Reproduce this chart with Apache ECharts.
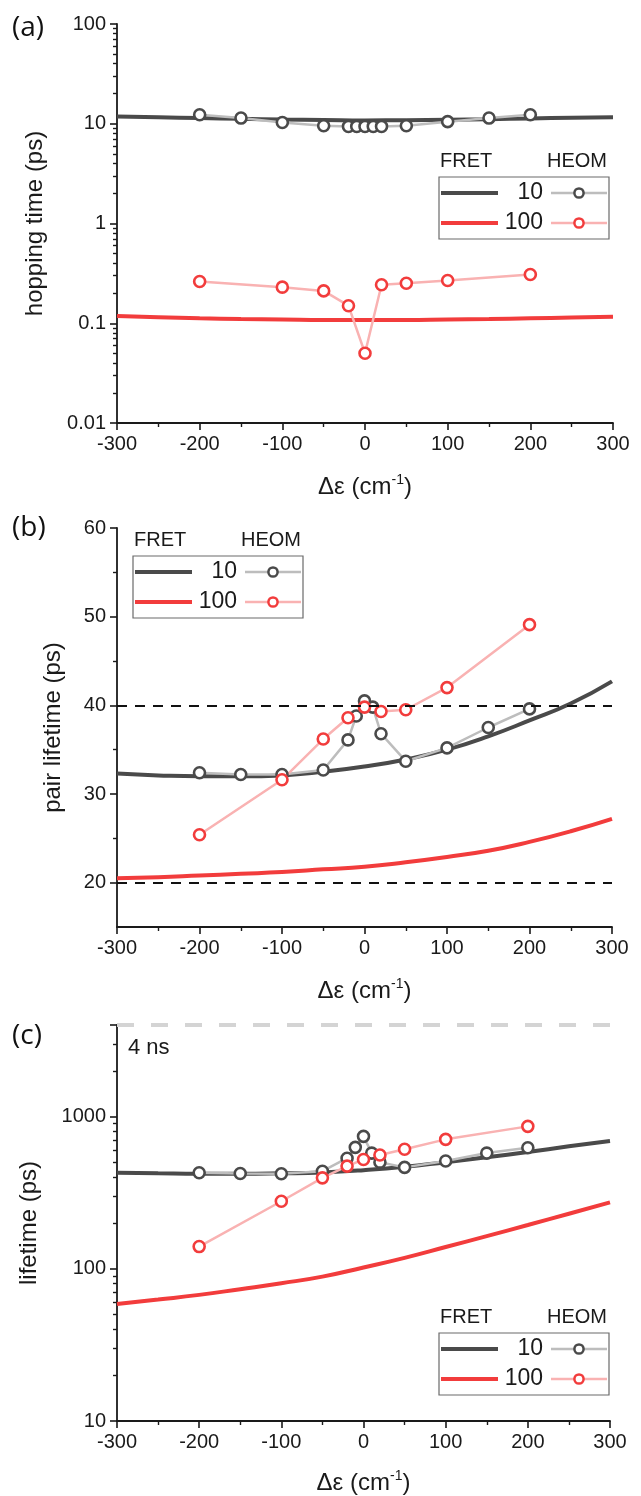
<!DOCTYPE html>
<html>
<head>
    <meta charset="utf-8">
    <title>FRET vs HEOM</title>
    <script src="https://cdn.jsdelivr.net/npm/echarts@6/dist/echarts.min.js"></script>
    <style>
        *{margin:0;padding:0;}
        html,body{width:100%;height:100%;overflow:hidden;background:#fff;}
        #main{width:641px;height:1496px;}
    </style>
</head>
<body>
<div id="main"></div>
<script>
    // energy gap (cm-1)
    let xFret = [-300, -250, -200, -150, -100, -50, 0, 50, 100, 150, 200, 250, 300];
    let xHeom10 = [-200, -150, -100, -50, -20, -10, 0, 10, 20, 50, 100, 150, 200];
    let xHeom100 = [-200, -100, -50, -20, 0, 20, 50, 100, 200];

    // (a) hopping time (ps)
    let hopFret10 = [11.8, 11.6, 11.4, 11.2, 11.0, 10.9, 10.8, 10.85, 10.95, 11.1, 11.3, 11.5, 11.6];
    let hopFret100 = [0.118, 0.115, 0.112, 0.110, 0.109, 0.108, 0.108, 0.108, 0.109, 0.110, 0.112, 0.114, 0.116];
    let hopHeom10 = [12.3, 11.4, 10.3, 9.55, 9.4, 9.4, 9.4, 9.4, 9.4, 9.55, 10.5, 11.4, 12.3];
    let hopHeom100 = [0.262, 0.23, 0.211, 0.150, 0.050, 0.243, 0.252, 0.268, 0.308];

    // (b) pair lifetime (ps)
    let pairFret10 = [32.3, 32.1, 32.0, 32.0, 32.1, 32.5, 33.1, 33.9, 35.0, 36.5, 38.3, 40.2, 42.7];
    let pairFret100 = [20.5, 20.6, 20.8, 21.0, 21.2, 21.5, 21.8, 22.3, 22.9, 23.6, 24.6, 25.8, 27.2];
    let pairHeom10 = [32.4, 32.2, 32.2, 32.7, 36.1, 38.8, 40.5, 39.8, 36.8, 33.7, 35.2, 37.5, 39.6];
    let pairHeom100 = [25.4, 31.6, 36.2, 38.6, 39.8, 39.3, 39.5, 42.0, 49.1];
    let pairRefLines = [40, 20];

    // (c) lifetime (ps)
    let lifeFret10 = [428, 424, 421, 421, 424, 430, 445, 468, 502, 540, 585, 638, 692];
    let lifeFret100 = [58.7, 62.8, 67.4, 73.5, 80.4, 88.9, 102, 118, 139, 164, 194, 230, 273];
    let lifeHeom10 = [428, 423, 421, 438, 533, 628, 742, 576, 502, 464, 511, 576, 625];
    let lifeHeom100 = [140, 278, 396, 473, 523, 559, 610, 709, 863];
    let lifeTop = 4000;

    // tick labels
    let xTicks = [-300, -200, -100, 0, 100, 200, 300];
    let hopTicks = [0.01, 0.1, 1, 10, 100];
    let pairTicks = [20, 30, 40, 50, 60];
    let pairMinor = [25, 35, 45, 55];
    let lifeTicks = [10, 100, 1000];
    let legendNames = ['10', '100'];

    const FONT = "'Liberation Sans', Arial, sans-serif";
    const TXT = '#1a1a1a';
    const AX = '#1a1a1a';
    const C10 = '#4a4a4a', C100 = '#f23c3c';
    const L10 = '#bdbdbd', L100 = '#f9b2b2';

    let zip = (xs, ys) => xs.map((x, i) => [x, ys[i]]);

    // log-spaced minor tick positions, expressed in log10 units
    function logMinor(lo, hi) {
        let out = [];
        for (let d = Math.floor(lo); d < Math.ceil(hi); d++) {
            for (let k = 2; k <= 9; k++) {
                let v = d + Math.log10(k);
                if (v > lo && v < hi - 1e-9) out.push(v);
            }
        }
        return out;
    }

    let grids = [
        {left: 117, top: 24, width: 496, height: 399},
        {left: 117, top: 528, width: 495, height: 399},
        {left: 117, top: 1025, width: 493, height: 397}
    ];

    let axisLine = {show: true, onZero: false, lineStyle: {color: AX, width: 1.8}};
    let tick = {show: true, inside: false, length: 7, lineStyle: {color: AX, width: 1.6}};
    let minorTick = {show: true, inside: false, length: 4, lineStyle: {color: AX, width: 1.4}};
    let label = {fontSize: 20, color: TXT, fontFamily: FONT, margin: 11};

    function makeX(gi, nameGap) {
        return {
            type: 'value', gridIndex: gi, min: -300, max: 300, interval: 100,
            name: '{t|Δε (cm}{s|-1}{t|)}', nameLocation: 'middle', nameGap: nameGap,
            nameTextStyle: {
                rich: {
                    t: {fontSize: 24, fontFamily: FONT, color: TXT, lineHeight: 28},
                    s: {fontSize: 14, fontFamily: FONT, color: TXT, lineHeight: 16, verticalAlign: 'top'}
                }
            },
            axisLine: axisLine,
            axisTick: tick,
            minorTick: Object.assign({splitNumber: 2}, minorTick),
            axisLabel: Object.assign({customValues: xTicks}, label),
            splitLine: {show: false}, minorSplitLine: {show: false}
        };
    }

    function isTick(list, v) {
        return list.some(t => Math.abs(Math.log10(t) - Math.log10(v)) < 1e-6);
    }

    function yName(text, gap) {
        return {
            name: text, nameLocation: 'middle', nameGap: gap,
            nameTextStyle: {fontSize: 24, fontFamily: FONT, color: TXT}
        };
    }

    function minorAxis(gi, min, max, values) {
        return {
            type: 'value', gridIndex: gi, min: min, max: max, position: 'left', offset: 0,
            axisLine: {show: false, onZero: false}, axisLabel: {show: false}, splitLine: {show: false},
            axisTick: Object.assign({customValues: values}, minorTick)
        };
    }

    let yAxes = [
        Object.assign({
            type: 'log', logBase: 10, gridIndex: 0, min: 0.01, max: 100, position: 'left',
            axisLine: axisLine, axisTick: tick, splitLine: {show: false},
            axisLabel: Object.assign({formatter: v => isTick(hopTicks, v) ? String(v) : ''}, label)
        }, yName('hopping time (ps)', 70)),
        minorAxis(0, -2, 2, logMinor(-2, 2)),
        Object.assign({
            type: 'value', gridIndex: 1, min: 15, max: 60, interval: 5, position: 'left',
            axisLine: axisLine, splitLine: {show: false},
            axisTick: Object.assign({customValues: pairTicks}, tick),
            axisLabel: Object.assign({customValues: pairTicks, formatter: v => v % 10 === 0 ? String(v) : ''}, label)
        }, yName('pair lifetime (ps)', 52)),
        minorAxis(1, 15, 60, pairMinor),
        Object.assign({
            type: 'log', logBase: 10, gridIndex: 2, min: 10, max: lifeTop, position: 'left',
            axisLine: axisLine, axisTick: tick, splitLine: {show: false},
            axisLabel: Object.assign({formatter: v => isTick(lifeTicks, v) ? String(v) : ''}, label)
        }, yName('lifetime (ps)', 76)),
        minorAxis(2, 1, Math.log10(lifeTop), logMinor(1, Math.log10(lifeTop)))
    ];

    function fret(gi, yi, ys, color) {
        return {
            type: 'line', xAxisIndex: gi, yAxisIndex: yi, data: zip(xFret, ys),
            smooth: true, symbol: 'none', lineStyle: {width: 4, color: color}, z: 2, silent: true
        };
    }
    function heom(gi, yi, xs, ys, line, dot) {
        return {
            type: 'line', xAxisIndex: gi, yAxisIndex: yi, data: zip(xs, ys),
            symbol: 'circle', symbolSize: 11, showSymbol: true,
            lineStyle: {width: 2.5, color: line},
            itemStyle: {color: '#fff', borderColor: dot, borderWidth: 2.6},
            z: 3, silent: true
        };
    }

    let series = [
        fret(0, 0, hopFret10, C10),
        fret(0, 0, hopFret100, C100),
        heom(0, 0, xHeom10, hopHeom10, L10, C10),
        heom(0, 0, xHeom100, hopHeom100, L100, C100),

        Object.assign(fret(1, 2, pairFret10, C10), {
            markLine: {
                silent: true, symbol: ['none', 'none'], label: {show: false},
                lineStyle: {color: '#111', width: 2, type: [10, 8]},
                data: pairRefLines.map(v => ({yAxis: v}))
            }
        }),
        fret(1, 2, pairFret100, C100),
        heom(1, 2, xHeom10, pairHeom10, L10, C10),
        heom(1, 2, xHeom100, pairHeom100, L100, C100),

        Object.assign(fret(2, 4, lifeFret10, C10), {
            markLine: {
                silent: true, symbol: ['none', 'none'], label: {show: false},
                lineStyle: {color: '#d4d4d4', width: 4, type: [17, 17]},
                data: [{yAxis: lifeTop}]
            }
        }),
        fret(2, 4, lifeFret100, C100),
        heom(2, 4, xHeom10, lifeHeom10, L10, C10),
        heom(2, 4, xHeom100, lifeHeom100, L100, C100)
    ];

    // legend box: FRET line | label | HEOM line + circle
    function legendBox(x, y) {
        let kids = [
            {type: 'text', x: 1, y: -16, style: {text: 'FRET', fontSize: 20, fontFamily: FONT, fill: TXT, verticalAlign: 'middle'}},
            {type: 'text', x: 168, y: -16, style: {text: 'HEOM', fontSize: 20, fontFamily: FONT, fill: TXT, align: 'right', verticalAlign: 'middle'}},
            {type: 'rect', shape: {x: 0, y: 0, width: 170, height: 62}, style: {fill: '#fff', stroke: '#6a6a6a', lineWidth: 1.2}}
        ];
        [[C10, L10], [C100, L100]].forEach((c, r) => {
            let ry = 16 + 30 * r;
            kids.push(
                {type: 'line', shape: {x1: 2, y1: ry, x2: 59, y2: ry}, style: {stroke: c[0], lineWidth: 4}},
                {type: 'text', x: 104, y: ry, style: {text: legendNames[r], fontSize: 23, fontFamily: FONT, fill: TXT, align: 'right', verticalAlign: 'middle'}},
                {type: 'line', shape: {x1: 112, y1: ry, x2: 168, y2: ry}, style: {stroke: c[1], lineWidth: 2.5}},
                {type: 'circle', shape: {cx: 140, cy: ry, r: 4.6}, style: {fill: '#fff', stroke: c[0], lineWidth: 2.5}}
            );
        });
        return {type: 'group', x: x, y: y, z: 10, children: kids};
    }

    function panelTag(text, y) {
        return {type: 'text', x: 12, y: y, z: 10,
            style: {text: text, fontSize: 28, fontFamily: "'Open Sans', sans-serif", fill: '#111', verticalAlign: 'middle'}};
    }

    let chart = echarts.init(document.getElementById('main'));
    chart.setOption({
        animation: false,
        backgroundColor: '#fff',
        grid: grids,
        xAxis: [makeX(0, 50), makeX(1, 50), makeX(2, 48)],
        yAxis: yAxes,
        series: series,
        graphic: [
            panelTag('(a)', 28), panelTag('(b)', 528), panelTag('(c)', 1036),
            legendBox(439, 177), legendBox(133, 556), legendBox(439, 1333),
            {type: 'text', x: 128, y: 1048, z: 10, style: {text: '4 ns', fontSize: 22, fontFamily: FONT, fill: TXT, verticalAlign: 'middle'}}
        ]
    });
</script>
</body>
</html>
